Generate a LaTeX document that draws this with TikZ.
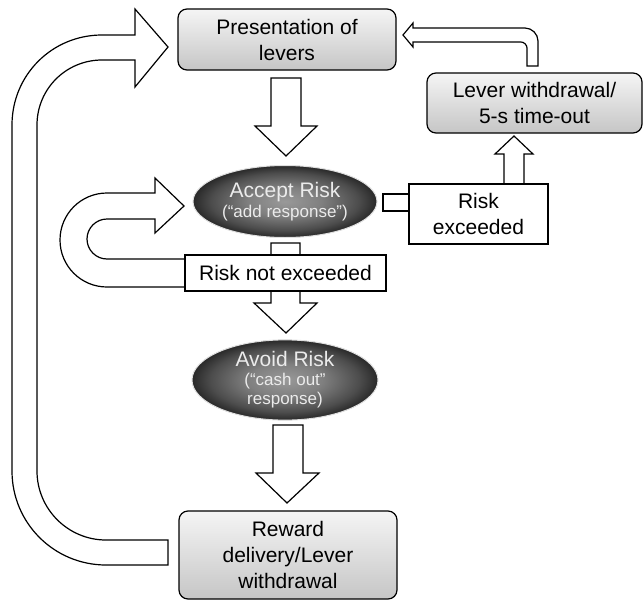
\documentclass[tikz,border=0pt]{standalone}
\usepackage{fontspec}
\setmainfont{Liberation Sans}
\usetikzlibrary{shapes.geometric}
\pgfdeclareradialshading{ovalshade}{\pgfpoint{0bp}{0bp}}{color(0bp)=(black!40); color(10bp)=(black!50); color(20bp)=(black!70); color(25bp)=(black!84); color(50bp)=(black!84)}
\tikzset{
  big/.style={font=\fontsize{21}{26}\selectfont},
  rbox/.style={draw=black, line width=1.2pt, rounded corners=9pt, top color=gray!8, bottom color=gray!45, align=center, inner sep=0pt, big},
  wbox/.style={draw=black, line width=1.2pt, fill=white, align=center, inner sep=0pt, big},
  oval/.style={ellipse, draw=gray!25, line width=1pt, shading=ovalshade, text=white!92!black, align=center, inner sep=0pt, font=\fontsize{17}{19}\selectfont},
  barrow/.style={draw=black, line width=1.2pt, fill=white, line join=miter},
}
\begin{document}
\begin{tikzpicture}[x=1pt,y=-1pt]
\useasboundingbox (0,0) rectangle (643,600);

% block arrows (drawn first)
\draw[barrow] (271,78) -- (301,78) -- (301,126) -- (317,126) -- (286,156) -- (255,126) -- (271,126) -- cycle;
\draw[barrow] (271,243) -- (300,243) -- (300,303) -- (317,303) -- (286,333) -- (254,303) -- (271,303) -- cycle;
\draw[barrow] (273,425) -- (303,425) -- (303,473) -- (319,473) -- (287,503) -- (256,473) -- (273,473) -- cycle;
\draw[barrow] (504,184) -- (504,154) -- (495,154) -- (514,136) -- (533,154) -- (524,154) -- (524,184) -- cycle;
\draw[barrow] (527,66) -- (527,48) .. controls (527,45) and (524,42) .. (521,42) -- (413,42) -- (413,47) -- (403,35) -- (413,23) -- (413,28) -- (525,28) .. controls (532,28) and (538,34) .. (538,41) -- (538,66) -- cycle;
\draw[barrow] (184,206) -- (155,178) -- (155,193) -- (107,193) .. controls (81,193) and (60,214) .. (60,240) .. controls (60,266) and (81,287) .. (107,287) -- (186,287) -- (186,259) -- (107,259) .. controls (96,259) and (87,250) .. (87,239) .. controls (87,228) and (96,219) .. (107,219) -- (155,219) -- (155,233) -- cycle;
\draw[barrow] (168,47) -- (135,9) -- (135,35) -- (102,35) .. controls (52,35) and (12,75) .. (12,125) -- (12,471) .. controls (12,523) and (54,565) .. (106,565) -- (168,565) -- (168,540) -- (106,540) .. controls (68,540) and (37,509) .. (37,471) -- (37,125) .. controls (37,89) and (66,60) .. (102,60) -- (135,60) -- (135,87) -- cycle;
\draw[barrow] (383,194) rectangle (409,211);

% nodes
\node[rbox, minimum width=218pt, minimum height=61pt] (pres) at (287,39.5) {Presentation of\\levers};
\node[rbox, minimum width=215pt, minimum height=60pt] (lever) at (534.5,103) {Lever withdrawal/\\5-s time-out};
\node[oval, minimum width=184pt, minimum height=72pt] (accept) at (285,201.5) {{\fontsize{21}{22}\selectfont Accept Risk}\\[1pt](“add response”)};
\node[wbox, minimum width=139pt, minimum height=60pt] (riskex) at (478.5,214) {Risk\\exceeded};
\node[wbox, minimum width=201pt, minimum height=36pt] (notex) at (285.5,273) {Risk not exceeded};
\node[oval, minimum width=186pt, minimum height=74pt] (avoid) at (285,380) {{\fontsize{21}{22}\selectfont Avoid Risk}\\(“cash out”\\response)};
\node[rbox, minimum width=218pt, minimum height=88pt] (reward) at (288,555) {Reward\\delivery/Lever\\withdrawal};
\end{tikzpicture}
\end{document}
